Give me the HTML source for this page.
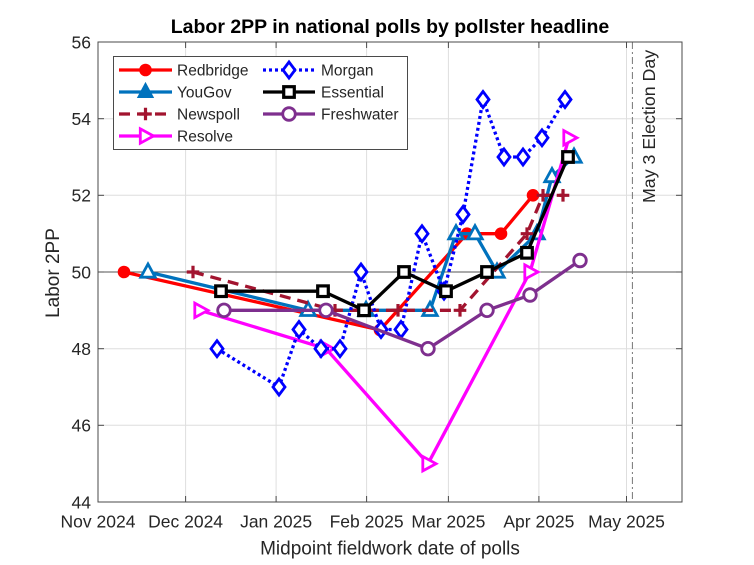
<!DOCTYPE html>
<html>
<head>
<meta charset="utf-8">
<style>
html,body{margin:0;padding:0;background:#fff;}
svg{display:block;}
text{font-family:"Liberation Sans",Arial,sans-serif;fill:#262626;}
</style>
</head>
<body>
<svg width="754" height="565" viewBox="0 0 754 565" xmlns="http://www.w3.org/2000/svg">
<rect x="0" y="0" width="754" height="565" fill="#fff"/>

<!-- grid -->
<g stroke="#dedede" stroke-width="1">
  <line x1="185.6" y1="42" x2="185.6" y2="502"/>
  <line x1="276.1" y1="42" x2="276.1" y2="502"/>
  <line x1="366.6" y1="42" x2="366.6" y2="502"/>
  <line x1="448.4" y1="42" x2="448.4" y2="502"/>
  <line x1="538.9" y1="42" x2="538.9" y2="502"/>
  <line x1="626.5" y1="42" x2="626.5" y2="502"/>
  <line x1="98" y1="118.7" x2="682" y2="118.7"/>
  <line x1="98" y1="195.3" x2="682" y2="195.3"/>
  <line x1="98" y1="348.7" x2="682" y2="348.7"/>
  <line x1="98" y1="425.3" x2="682" y2="425.3"/>
</g>
<!-- 50 line -->
<line x1="98" y1="272" x2="682" y2="272" stroke="#555" stroke-width="1"/>
<!-- election day -->
<line x1="632.4" y1="42" x2="632.4" y2="502" stroke="#777" stroke-width="1" stroke-dasharray="7,3,2,3"/>
<text transform="translate(655,203) rotate(-90)" font-size="17.8">May 3 Election Day</text>

<!-- axes box -->
<rect x="98" y="42" width="584" height="460" fill="none" stroke="#4a4a4a" stroke-width="1"/>
<!-- ticks -->
<g stroke="#4a4a4a" stroke-width="1">
  <line x1="185.6" y1="502" x2="185.6" y2="496"/><line x1="185.6" y1="42" x2="185.6" y2="48"/>
  <line x1="276.1" y1="502" x2="276.1" y2="496"/><line x1="276.1" y1="42" x2="276.1" y2="48"/>
  <line x1="366.6" y1="502" x2="366.6" y2="496"/><line x1="366.6" y1="42" x2="366.6" y2="48"/>
  <line x1="448.4" y1="502" x2="448.4" y2="496"/><line x1="448.4" y1="42" x2="448.4" y2="48"/>
  <line x1="538.9" y1="502" x2="538.9" y2="496"/><line x1="538.9" y1="42" x2="538.9" y2="48"/>
  <line x1="626.5" y1="502" x2="626.5" y2="496"/><line x1="626.5" y1="42" x2="626.5" y2="48"/>
  <line x1="98" y1="118.7" x2="104" y2="118.7"/><line x1="682" y1="118.7" x2="676" y2="118.7"/>
  <line x1="98" y1="195.3" x2="104" y2="195.3"/><line x1="682" y1="195.3" x2="676" y2="195.3"/>
  <line x1="98" y1="272" x2="104" y2="272"/><line x1="682" y1="272" x2="676" y2="272"/>
  <line x1="98" y1="348.7" x2="104" y2="348.7"/><line x1="682" y1="348.7" x2="676" y2="348.7"/>
  <line x1="98" y1="425.3" x2="104" y2="425.3"/><line x1="682" y1="425.3" x2="676" y2="425.3"/>
</g>

<!-- y tick labels -->
<g font-size="17.5" text-anchor="end">
  <text x="91" y="48.5">56</text>
  <text x="91" y="125">54</text>
  <text x="91" y="201.5">52</text>
  <text x="91" y="278.5">50</text>
  <text x="91" y="355">48</text>
  <text x="91" y="431.5">46</text>
  <text x="91" y="508.5">44</text>
</g>
<!-- x tick labels -->
<g font-size="17.5" text-anchor="middle">
  <text x="98" y="527.5">Nov 2024</text>
  <text x="185.6" y="527.5">Dec 2024</text>
  <text x="276.1" y="527.5">Jan 2025</text>
  <text x="366.6" y="527.5">Feb 2025</text>
  <text x="448.4" y="527.5">Mar 2025</text>
  <text x="538.9" y="527.5">Apr 2025</text>
  <text x="626.5" y="527.5">May 2025</text>
</g>
<text x="390" y="554.5" font-size="19" text-anchor="middle">Midpoint fieldwork date of polls</text>
<text transform="translate(59,273) rotate(-90)" font-size="19" text-anchor="middle">Labor 2PP</text>
<text x="390" y="33" font-size="19.5" font-weight="bold" text-anchor="middle" style="fill:#000">Labor 2PP in national polls by pollster headline</text>

<defs>
  <circle id="mRed" r="5.8" fill="#ff0000" stroke="#ff0000" stroke-width="1"/>
  <path id="mTri" d="M0,-8 L7.2,5.2 L-7.2,5.2 Z" fill="#fff" stroke="#0072BD" stroke-width="2.8" stroke-linejoin="miter"/>
  <path id="mPlus" d="M-6.3,0 H6.3 M0,-6.3 V6.3" stroke="#A2142F" stroke-width="3.2" fill="none"/>
  <path id="mRight" d="M8,0 L-5.2,-7.2 L-5.2,7.2 Z" fill="#fff" stroke="#ff00ff" stroke-width="2.8"/>
  <path id="mDia" d="M0,-8 L6,0 L0,8 L-6,0 Z" fill="#fff" stroke="#0000ff" stroke-width="2.8"/>
  <rect id="mSq" x="-5.3" y="-5.3" width="10.6" height="10.6" fill="#fff" stroke="#000" stroke-width="3.2"/>
  <circle id="mCirc" r="6.3" fill="#fff" stroke="#7E2F8E" stroke-width="2.8"/>
</defs>

<!-- Redbridge -->
<polyline fill="none" stroke="#ff0000" stroke-width="3.3" stroke-linejoin="round" points="124,272 380,330 467,233.7 501,233.7 533,195.3"/>
<use href="#mRed" x="124" y="272"/><use href="#mRed" x="380" y="330"/><use href="#mRed" x="467" y="233.7"/><use href="#mRed" x="501" y="233.7"/><use href="#mRed" x="533" y="195.3"/>

<!-- YouGov -->
<polyline fill="none" stroke="#0072BD" stroke-width="3.3" stroke-linejoin="round" points="148,272 308,310.3 366,310.3 430,310.3 456,233.7 475,233.7 497,272 537,233.7 552,176.5 574,157"/>
<use href="#mTri" x="148" y="272"/><use href="#mTri" x="308" y="310.3"/><use href="#mTri" x="366" y="310.3"/><use href="#mTri" x="430" y="310.3"/><use href="#mTri" x="456" y="233.7"/><use href="#mTri" x="475" y="233.7"/><use href="#mTri" x="497" y="272"/><use href="#mTri" x="537" y="233.7"/><use href="#mTri" x="552" y="176.5"/><use href="#mTri" x="574" y="157"/>

<!-- Newspoll -->
<polyline fill="none" stroke="#A2142F" stroke-width="3.3" stroke-dasharray="11,7" points="193,272 335,310.3 398,310.3 460,310.3 527,233.7 543,195.3 563,195.3"/>
<use href="#mPlus" x="193" y="272"/><use href="#mPlus" x="335" y="310.3"/><use href="#mPlus" x="398" y="310.3"/><use href="#mPlus" x="460" y="310.3"/><use href="#mPlus" x="527" y="233.7"/><use href="#mPlus" x="543" y="195.3"/><use href="#mPlus" x="563" y="195.3"/>

<!-- Resolve -->
<polyline fill="none" stroke="#ff00ff" stroke-width="3.3" stroke-linejoin="round" points="200,310.3 326,348.7 428,463.7 530,272 569,137.8"/>
<use href="#mRight" x="200" y="310.3"/><use href="#mRight" x="326" y="348.7"/><use href="#mRight" x="428" y="463.7"/><use href="#mRight" x="530" y="272"/><use href="#mRight" x="569" y="137.8"/>

<!-- Morgan -->
<polyline fill="none" stroke="#0000ff" stroke-width="3.3" stroke-dasharray="3,3" points="217,348.7 279,387 299,329.5 321,348.7 340,348.7 361,272 381,329.5 401,329.5 422,233.7 444,291.2 463,214.5 483,99.5 504,157 523,157 542,137.8 565,99.5"/>
<use href="#mDia" x="217" y="348.7"/><use href="#mDia" x="279" y="387"/><use href="#mDia" x="299" y="329.5"/><use href="#mDia" x="321" y="348.7"/><use href="#mDia" x="340" y="348.7"/><use href="#mDia" x="361" y="272"/><use href="#mDia" x="381" y="329.5"/><use href="#mDia" x="401" y="329.5"/><use href="#mDia" x="422" y="233.7"/><use href="#mDia" x="444" y="291.2"/><use href="#mDia" x="463" y="214.5"/><use href="#mDia" x="483" y="99.5"/><use href="#mDia" x="504" y="157"/><use href="#mDia" x="523" y="157"/><use href="#mDia" x="542" y="137.8"/><use href="#mDia" x="565" y="99.5"/>

<!-- Essential -->
<polyline fill="none" stroke="#000" stroke-width="3.3" stroke-linejoin="round" points="221,291.2 323,291.2 364,310.3 404,272 446,291.2 487,272 527,252.8 568,157"/>
<use href="#mSq" x="221" y="291.2"/><use href="#mSq" x="323" y="291.2"/><use href="#mSq" x="364" y="310.3"/><use href="#mSq" x="404" y="272"/><use href="#mSq" x="446" y="291.2"/><use href="#mSq" x="487" y="272"/><use href="#mSq" x="527" y="252.8"/><use href="#mSq" x="568" y="157"/>

<!-- Freshwater -->
<polyline fill="none" stroke="#7E2F8E" stroke-width="3.3" stroke-linejoin="round" points="224,310.3 326,310.3 428,348.7 487,310.3 530,295 580,260.5"/>
<use href="#mCirc" x="224" y="310.3"/><use href="#mCirc" x="326" y="310.3"/><use href="#mCirc" x="428" y="348.7"/><use href="#mCirc" x="487" y="310.3"/><use href="#mCirc" x="530" y="295"/><use href="#mCirc" x="580" y="260.5"/>

<!-- legend -->
<rect x="113.5" y="56.5" width="294" height="93" fill="#fff" stroke="#4a4a4a" stroke-width="1"/>
<g font-size="15.5">
  <line x1="119" y1="70" x2="172" y2="70" stroke="#ff0000" stroke-width="3.3"/><use href="#mRed" x="145.5" y="70"/>
  <text x="177" y="75.5">Redbridge</text>
  <line x1="119" y1="92" x2="172" y2="92" stroke="#0072BD" stroke-width="3.3"/>
  <path d="M145.5,84 L152.5,97 L138.5,97 Z" fill="#0072BD" stroke="#0072BD" stroke-width="2"/>
  <text x="177" y="97.5">YouGov</text>
  <line x1="119" y1="114" x2="172" y2="114" stroke="#A2142F" stroke-width="3.3" stroke-dasharray="11,7"/><use href="#mPlus" x="145.5" y="114"/>
  <text x="177" y="119.5">Newspoll</text>
  <line x1="119" y1="136" x2="172" y2="136" stroke="#ff00ff" stroke-width="3.3"/><use href="#mRight" x="145.5" y="136"/>
  <text x="177" y="141.5">Resolve</text>

  <line x1="263" y1="70" x2="315" y2="70" stroke="#0000ff" stroke-width="3.3" stroke-dasharray="3,3"/><use href="#mDia" x="289" y="70"/>
  <text x="321" y="75.5">Morgan</text>
  <line x1="263" y1="92" x2="315" y2="92" stroke="#000" stroke-width="3.3"/><use href="#mSq" x="289" y="92"/>
  <text x="321" y="97.5">Essential</text>
  <line x1="263" y1="114" x2="315" y2="114" stroke="#7E2F8E" stroke-width="3.3"/><use href="#mCirc" x="289" y="114"/>
  <text x="321" y="119.5">Freshwater</text>
</g>
</svg>
</body>
</html>
